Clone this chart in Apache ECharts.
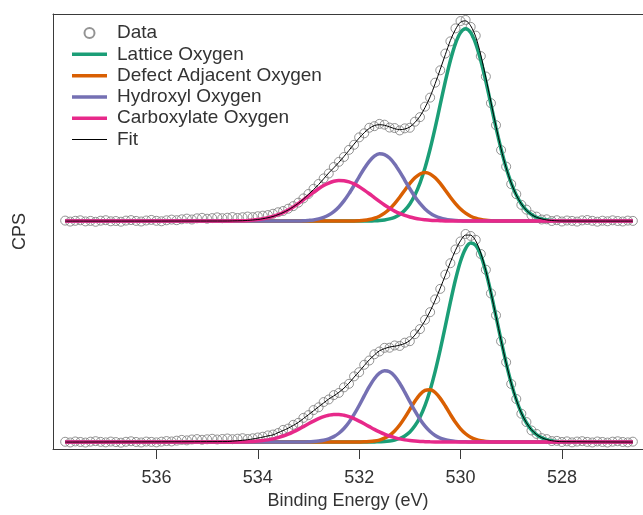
<!DOCTYPE html>
<html>
<head>
<meta charset="utf-8">
<script src="https://cdn.jsdelivr.net/npm/echarts@6/dist/echarts.min.js"></script>
<style>
  html, body { margin: 0; padding: 0; background: #fff; }
  #chart { width: 643px; height: 515px; }
</style>
</head>
<body>
<div id="chart"></div>
<script>
// O 1s spectra, two samples stacked (upper one shifted up)
const tickValues = [536, 534, 532, 530, 528]

const dataEnergy = [
  537.8, 537.7, 537.6, 537.5, 537.4, 537.3, 537.2, 537.1, 537.0, 536.9,
  536.8, 536.7, 536.6, 536.5, 536.4, 536.3, 536.2, 536.1, 536.0, 535.9,
  535.8, 535.7, 535.6, 535.5, 535.4, 535.3, 535.2, 535.1, 535.0, 534.9,
  534.8, 534.7, 534.6, 534.5, 534.4, 534.3, 534.2, 534.1, 534.0, 533.9,
  533.8, 533.7, 533.6, 533.5, 533.4, 533.3, 533.2, 533.1, 533.0, 532.9,
  532.8, 532.7, 532.6, 532.5, 532.4, 532.3, 532.2, 532.1, 532.0, 531.9,
  531.8, 531.7, 531.6, 531.5, 531.4, 531.3, 531.2, 531.1, 531.0, 530.9,
  530.8, 530.7, 530.6, 530.5, 530.4, 530.3, 530.2, 530.1, 530.0, 529.9,
  529.8, 529.7, 529.6, 529.5, 529.4, 529.3, 529.2, 529.1, 529.0, 528.9,
  528.8, 528.7, 528.6, 528.5, 528.4, 528.3, 528.2, 528.1, 528.0, 527.9,
  527.8, 527.7, 527.6, 527.5, 527.4, 527.3, 527.2, 527.1, 527.0, 526.9,
  526.8, 526.7, 526.6
]

const upperData = [
  0.5, -0.5, 0.3, 0.8, -0.3, 0.2, -0.7, 0.4, 0.9, -0.2,
  0.1, -0.6, 0.5, 1.0, 0.2, -0.4, 0.6, 1.2, 0.3, -0.2,
  0.8, 1.5, 0.9, 1.8, 2.5, 1.6, 2.8, 3.3, 2.4, 3.0,
  3.8, 2.9, 3.4, 4.1, 3.2, 3.9, 4.6, 4.0, 4.9, 5.5,
  6.1, 7.4, 8.9, 10.2, 12.5, 15.1, 18.6, 22.9, 27.4, 32.6,
  37.5, 43.1, 48.0, 54.6, 59.8, 64.7, 71.9, 77.0, 84.5, 88.6,
  94.2, 95.8, 98.1, 97.3, 94.4, 93.9, 91.5, 93.6, 94.2, 100.3,
  104.9, 115.5, 124.6, 139.7, 152.2, 169.1, 181.4, 194.5, 201.9, 203.0,
  196.0, 187.2, 166.5, 145.9, 119.0, 96.8, 71.7, 55.0, 37.3, 27.2,
  16.4, 11.6, 5.9, 4.5, 1.6, 1.8, 0.1, 0.9, -0.4, 0.6,
  0.2, -0.5, 0.7, 1.1, 0.3, -0.6, 0.4, -0.2, 0.8, 0.1,
  -0.4, 0.5, 0.2
]

const lowerData = [
  0.3, -0.4, 0.6, 0.1, -0.5, 0.4, 0.9, 0.2, -0.3, 0.5,
  0.0, -0.6, 0.3, 0.8, 0.1, -0.4, 0.5, 0.2, -0.3, 0.4,
  1.0, 0.6, 1.4, 2.2, 1.7, 2.6, 3.0, 2.3, 2.8, 3.3,
  2.6, 3.1, 3.6, 2.9, 3.4, 3.9, 3.1, 3.8, 4.6, 5.4,
  6.7, 7.6, 9.1, 12.3, 13.6, 17.4, 19.4, 24.4, 27.2, 32.3,
  35.1, 40.4, 43.0, 47.4, 49.6, 55.2, 58.8, 66.3, 70.5, 78.0,
  82.3, 88.6, 91.4, 95.1, 95.2, 97.5, 97.0, 100.3, 101.8, 108.9,
  114.0, 123.4, 131.1, 144.0, 154.6, 169.0, 180.5, 194.4, 202.5, 210.0,
  208.0, 204.1, 189.8, 173.9, 150.0, 127.9, 101.7, 80.6, 58.6, 43.5,
  28.6, 20.2, 11.7, 8.2, 4.0, 3.0, 1.0, 1.2, 0.1, 0.7,
  -0.3, 0.5, 0.9, 0.2, -0.4, 0.6, 0.1, -0.5, 0.4, 0.8,
  0.1, -0.3, 0.4
]

// energies for the fitted components and the fit
const compEnergy = [
  537.8,
  534.6, 534.5, 534.4, 534.3, 534.2, 534.1, 534.0, 533.9, 533.8, 533.7,
  533.6, 533.5, 533.4, 533.3, 533.2, 533.1, 533.0, 532.9, 532.8, 532.7,
  532.6, 532.5, 532.4, 532.3, 532.2, 532.1, 532.0, 531.9, 531.8, 531.7,
  531.6, 531.5, 531.4, 531.3, 531.2, 531.1, 531.0, 530.9, 530.8, 530.7,
  530.6, 530.5, 530.4, 530.3, 530.2, 530.1, 530.0, 529.9, 529.8, 529.7,
  529.6, 529.5, 529.4, 529.3, 529.2, 529.1, 529.0, 528.9, 528.8, 528.7,
  528.6, 528.5, 528.4, 528.3, 528.2, 528.1, 528.0,
  526.6
]

const upperLattice = [
  0,
  0, 0, 0, 0, 0, 0, 0, 0, 0, 0,
  0, 0, 0, 0, 0, 0, 0, 0, 0, 0,
  0, 0, 0, 0, 0, 0, 0, 0, 0.1, 0.3,
  0.6, 1.2, 2.2, 3.8, 6.6, 10.9, 17.3, 26.3, 38.4, 53.9,
  72.8, 94.4, 117.7, 140.9, 162.0, 179.1, 190.2, 194.0, 190.2, 179.1,
  162.0, 140.9, 117.7, 94.4, 72.8, 53.9, 38.4, 26.3, 17.3, 10.9,
  6.6, 3.8, 2.2, 1.2, 0.6, 0.3, 0.1,
  0
]
const upperDefect = [
  0,
  0, 0, 0, 0, 0, 0, 0, 0, 0, 0,
  0, 0, 0, 0, 0, 0, 0, 0, 0, 0,
  0, 0, 0, 0, 0.1, 0.2, 0.4, 0.8, 1.6, 2.9,
  4.9, 8.0, 12.2, 17.7, 24.1, 31.1, 38.0, 43.7, 47.6, 49.0,
  47.6, 43.7, 38.0, 31.1, 24.1, 17.7, 12.2, 8.0, 4.9, 2.9,
  1.6, 0.8, 0.4, 0.2, 0.1, 0, 0, 0, 0, 0,
  0, 0, 0, 0, 0, 0, 0,
  0
]
const upperHydroxyl = [
  0,
  0, 0, 0, 0, 0, 0, 0, 0, 0, 0,
  0, 0, 0, 0.1, 0.2, 0.3, 0.7, 1.2, 2.2, 3.8,
  6.2, 9.6, 14.3, 20.4, 27.7, 36.0, 44.7, 53.1, 60.3, 65.5,
  67.9, 67.2, 63.7, 57.7, 49.9, 41.2, 32.6, 24.6, 17.8, 12.3,
  8.1, 5.1, 3.1, 1.8, 1.0, 0.5, 0.3, 0.1, 0, 0,
  0, 0, 0, 0, 0, 0, 0, 0, 0, 0,
  0, 0, 0, 0, 0, 0, 0,
  0
]
const upperCarboxylate = [
  0,
  0.1, 0.2, 0.3, 0.4, 0.7, 1.1, 1.6, 2.4, 3.4, 4.7,
  6.5, 8.6, 11.2, 14.3, 17.7, 21.4, 25.3, 29.1, 32.7, 35.9,
  38.4, 40.2, 41.0, 40.8, 39.6, 37.5, 34.7, 31.3, 27.6, 23.7,
  19.9, 16.3, 13.0, 10.1, 7.7, 5.7, 4.1, 2.9, 2.0, 1.4,
  0.9, 0.6, 0.4, 0.2, 0.2, 0.1, 0.1, 0, 0, 0,
  0, 0, 0, 0, 0, 0, 0, 0, 0, 0,
  0, 0, 0, 0, 0, 0, 0,
  0
]
const upperFit = [
  0,
  0.1, 0.2, 0.3, 0.4, 0.7, 1.1, 1.6, 2.4, 3.4, 4.7,
  6.5, 8.6, 11.2, 14.4, 17.9, 22.2, 27.0, 31.8, 36.9, 42.7,
  48.6, 53.8, 59.3, 65.2, 71.4, 77.7, 83.8, 89.2, 93.6, 96.4,
  97.3, 96.7, 95.1, 93.3, 92.3, 92.9, 95.0, 99.5, 105.8, 114.6,
  125.4, 138.8, 153.2, 168.0, 182.3, 193.4, 200.8, 202.1, 197.1, 186.0,
  167.6, 144.7, 120.1, 95.6, 72.9, 53.9, 38.4, 26.3, 17.3, 10.9,
  6.6, 3.8, 2.2, 1.2, 0.6, 0.3, 0.1,
  0
]

const lowerLattice = [
  0,
  0, 0, 0, 0, 0, 0, 0, 0, 0, 0,
  0, 0, 0, 0, 0, 0, 0, 0, 0, 0,
  0, 0, 0, 0, 0, 0, 0, 0, 0, 0.1,
  0.3, 0.5, 1.1, 2.0, 3.6, 6.2, 10.2, 16.4, 25.1, 37.0,
  52.4, 71.3, 93.2, 117.0, 141.2, 163.8, 182.5, 195.3, 200.8, 198.4,
  188.4, 171.8, 150.6, 126.8, 102.6, 79.7, 59.5, 42.7, 29.4, 19.5,
  12.4, 7.6, 4.5, 2.5, 1.4, 0.7, 0.4,
  0
]
const lowerDefect = [
  0,
  0, 0, 0, 0, 0, 0, 0, 0, 0, 0,
  0, 0, 0, 0, 0, 0, 0, 0, 0, 0,
  0, 0, 0, 0, 0, 0, 0.1, 0.2, 0.5, 1.0,
  2.0, 3.9, 6.8, 11.2, 17.2, 24.7, 33.0, 41.2, 48.0, 52.1,
  52.8, 50.0, 44.1, 36.4, 27.9, 20.0, 13.4, 8.4, 4.9, 2.7,
  1.3, 0.6, 0.3, 0.1, 0, 0, 0, 0, 0, 0,
  0, 0, 0, 0, 0, 0, 0,
  0
]
const lowerHydroxyl = [
  0,
  0, 0, 0, 0, 0, 0, 0, 0, 0, 0,
  0, 0, 0, 0, 0, 0.1, 0.2, 0.5, 1.0, 1.8,
  3.3, 5.5, 8.9, 13.7, 20.0, 27.9, 36.9, 46.6, 55.9, 63.9,
  69.5, 71.9, 70.9, 66.5, 59.3, 50.4, 40.8, 31.4, 23.0, 16.0,
  10.6, 6.7, 4.0, 2.3, 1.3, 0.7, 0.3, 0.2, 0.1, 0,
  0, 0, 0, 0, 0, 0, 0, 0, 0, 0,
  0, 0, 0, 0, 0, 0, 0,
  0
]
const lowerCarboxylate = [
  0,
  0, 0.1, 0.1, 0.2, 0.4, 0.6, 1.0, 1.5, 2.2, 3.2,
  4.5, 6.1, 8.0, 10.3, 12.8, 15.6, 18.4, 21.1, 23.6, 25.7,
  27.1, 27.9, 27.9, 27.1, 25.7, 23.6, 21.1, 18.4, 15.6, 12.8,
  10.3, 8.0, 6.1, 4.5, 3.2, 2.2, 1.5, 1.0, 0.6, 0.4,
  0.2, 0.1, 0.1, 0, 0, 0, 0, 0, 0, 0,
  0, 0, 0, 0, 0, 0, 0, 0, 0, 0,
  0, 0, 0, 0, 0, 0, 0,
  0
]
const lowerFit = [
  0,
  0.5, 0.9, 1.3, 1.8, 2.4, 3.1, 4.0, 5.0, 6.2, 7.2,
  9.5, 11.6, 14.0, 16.8, 19.8, 23.7, 27.6, 31.6, 35.6, 39.5,
  43.4, 46.6, 50.2, 54.4, 59.5, 65.5, 71.1, 77.2, 83.0, 87.8,
  92.1, 94.3, 95.9, 96.7, 97.8, 99.5, 102.5, 108.0, 114.7, 122.5,
  132.0, 143.1, 155.4, 168.2, 181.4, 193.5, 203.2, 208.9, 208.8, 203.1,
  190.7, 172.9, 150.9, 126.9, 102.6, 79.7, 59.5, 42.7, 29.4, 19.5,
  12.4, 7.6, 4.5, 2.5, 1.4, 0.7, 0.4,
  0
]

const upperOffset = 223
const font = "'Liberation Sans', Arial, Helvetica, sans-serif"
const colors = {
  lattice: '#1b9e77',
  defect: '#d95f02',
  hydroxyl: '#7570b3',
  carboxylate: '#e7298a'
}
const thickIcon = 'path://M0,0H35V3.5H0Z'
const thinIcon = 'path://M0,0H35V1.1H0Z'

const pairs = (energy, values, offset) => energy.map((e, i) => [e, values[i] + offset])

const dataSeries = (values, offset) => ({
  name: 'Data',
  type: 'scatter',
  symbol: 'circle',
  symbolSize: 9,
  itemStyle: { color: 'rgba(0,0,0,0)', borderColor: '#787878', borderWidth: 1 },
  data: pairs(dataEnergy, values, offset),
  silent: true
})

const lineSeries = (name, values, offset, color, width) => ({
  name,
  type: 'line',
  symbol: 'none',
  smooth: 0.3,
  lineStyle: { color, width },
  itemStyle: { color },
  data: pairs(compEnergy, values, offset),
  silent: true
})

const panel = (d, lat, def, hyd, carb, fit, offset) => [
  dataSeries(d, offset),
  lineSeries('Lattice Oxygen', lat, offset, colors.lattice, 3.5),
  lineSeries('Defect Adjacent Oxygen', def, offset, colors.defect, 3.5),
  lineSeries('Hydroxyl Oxygen', hyd, offset, colors.hydroxyl, 3.5),
  lineSeries('Carboxylate Oxygen', carb, offset, colors.carboxylate, 3.5),
  lineSeries('Fit', fit, offset, '#000000', 1)
]

const chart = echarts.init(document.getElementById('chart'))
window.addEventListener('resize', () => chart.resize())

chart.setOption({
  animation: false,
  textStyle: { fontFamily: font },
  grid: { left: 53, right: -6, top: 14, bottom: 62 },
  legend: {
    orient: 'vertical',
    left: 72,
    top: 22.4,
    padding: 0,
    itemWidth: 35,
    itemHeight: 10,
    itemGap: 0,
    data: [
      { name: 'Data' },
      { name: 'Lattice Oxygen', icon: thickIcon },
      { name: 'Defect Adjacent Oxygen', icon: thickIcon },
      { name: 'Hydroxyl Oxygen', icon: thickIcon },
      { name: 'Carboxylate Oxygen', icon: thickIcon },
      { name: 'Fit', icon: thinIcon }
    ],
    textStyle: { fontFamily: font, fontSize: 19, lineHeight: 21.3, color: '#333', padding: [0, 0, 0, 5] }
  },
  xAxis: [
    {
      type: 'value',
      inverse: true,
      min: 526.4,
      max: 538.04,
      name: 'Binding Energy (eV)',
      nameLocation: 'middle',
      nameGap: 43,
      nameTextStyle: { fontSize: 18, color: '#333', fontFamily: font },
      axisLine: { show: true, onZero: false, lineStyle: { color: '#3a3a3a', width: 1 } },
      axisTick: { show: true, length: 10, customValues: tickValues, lineStyle: { color: '#3a3a3a' } },
      axisLabel: { customValues: tickValues, fontSize: 18, color: '#333', margin: 20, fontFamily: font },
      splitLine: { show: false }
    },
    {
      type: 'value',
      position: 'top',
      inverse: true,
      min: 526.4,
      max: 538.04,
      axisLine: { show: true, onZero: false, lineStyle: { color: '#3a3a3a', width: 1 } },
      axisTick: { show: false },
      axisLabel: { show: false },
      splitLine: { show: false }
    }
  ],
  yAxis: {
    type: 'value',
    min: -7,
    max: 432,
    name: 'CPS',
    nameLocation: 'middle',
    nameGap: 24,
    nameTextStyle: { fontSize: 18, color: '#333', fontFamily: font },
    axisLine: { show: true, onZero: false, lineStyle: { color: '#3a3a3a', width: 1 } },
    axisTick: { show: false },
    axisLabel: { show: false },
    splitLine: { show: false }
  },
  series: [
    ...panel(upperData, upperLattice, upperDefect, upperHydroxyl, upperCarboxylate, upperFit, upperOffset),
    ...panel(lowerData, lowerLattice, lowerDefect, lowerHydroxyl, lowerCarboxylate, lowerFit, 0)
  ]
})
</script>
</body>
</html>
